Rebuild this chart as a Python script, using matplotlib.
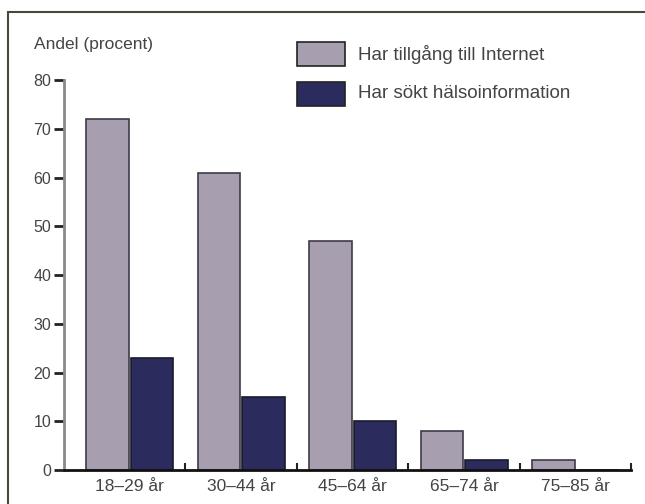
import numpy as np
import matplotlib.pyplot as plt
from matplotlib.patches import Rectangle

plt.rcParams['font.family'] = ['Liberation Sans Narrow', 'Liberation Sans', 'DejaVu Sans']

groups = ['18–29 år', '30–44 år', '45–64 år', '65–74 år', '75–85 år']
internet = [72, 61, 47, 8, 2]
halsa = [23, 15, 10, 2, 0]
labels = ['Har tillgång till Internet', 'Har sökt hälsoinformation']

grey = '#a79fb0'
navy = '#2b2b5e'
txt = '#444444'

fig = plt.figure(figsize=(6.45, 5.04), dpi=100)
ax = fig.add_axes([0.099, 0.067, 0.88, 0.774])

x = np.arange(len(groups))
w = 0.38
ax.bar(x - 0.2, internet, w, color=grey, edgecolor='#3e3b48', linewidth=1.2)
ax.bar(x + 0.2, halsa, w, color=navy, edgecolor='#1a1a2a', linewidth=1.2)

ax.set_xlim(-0.59, 4.47)
ax.set_ylim(0, 80)
ax.set_yticks(range(0, 81, 10))
ax.tick_params(axis='y', direction='out', length=7, width=2, color='#222222',
               labelsize=11.5, labelcolor=txt, pad=2)

ax.set_xticks(x + 0.5)
ax.set_xticklabels([])
ax.tick_params(axis='x', which='major', direction='in', length=5, width=1.5, color='#222222')
ax.set_xticks(x, minor=True)
ax.set_xticklabels(groups, minor=True)
ax.tick_params(axis='x', which='minor', length=0, labelsize=12.5, labelcolor=txt, pad=6)

for s in ['top', 'right']:
    ax.spines[s].set_visible(False)
ax.spines['left'].set_color('#8a8a8a')
ax.spines['left'].set_linewidth(2)
ax.spines['bottom'].set_color('#111111')
ax.spines['bottom'].set_linewidth(2)

fig.text(0.052, 0.903, 'Andel (procent)', fontsize=12.5, color=txt)

# legend boxes
for i, (c, lab) in enumerate(zip([grey, navy], labels)):
    y0 = 1 - (66 + i * 40) / 504
    fig.add_artist(Rectangle((297 / 645, y0), 48 / 645, 24 / 504, transform=fig.transFigure,
                             facecolor=c, edgecolor='#222222', linewidth=1.2))
    fig.text(358 / 645, y0 + 12 / 504, lab, fontsize=13.5, color=txt, va='center')

# frame
fig.add_artist(Rectangle((8 / 645, -0.1), 1.2, 1 - 12 / 504 + 0.1, transform=fig.transFigure,
                         fill=False, edgecolor='#4a463e', linewidth=1.5))

fig.savefig('out.png', dpi=100)
